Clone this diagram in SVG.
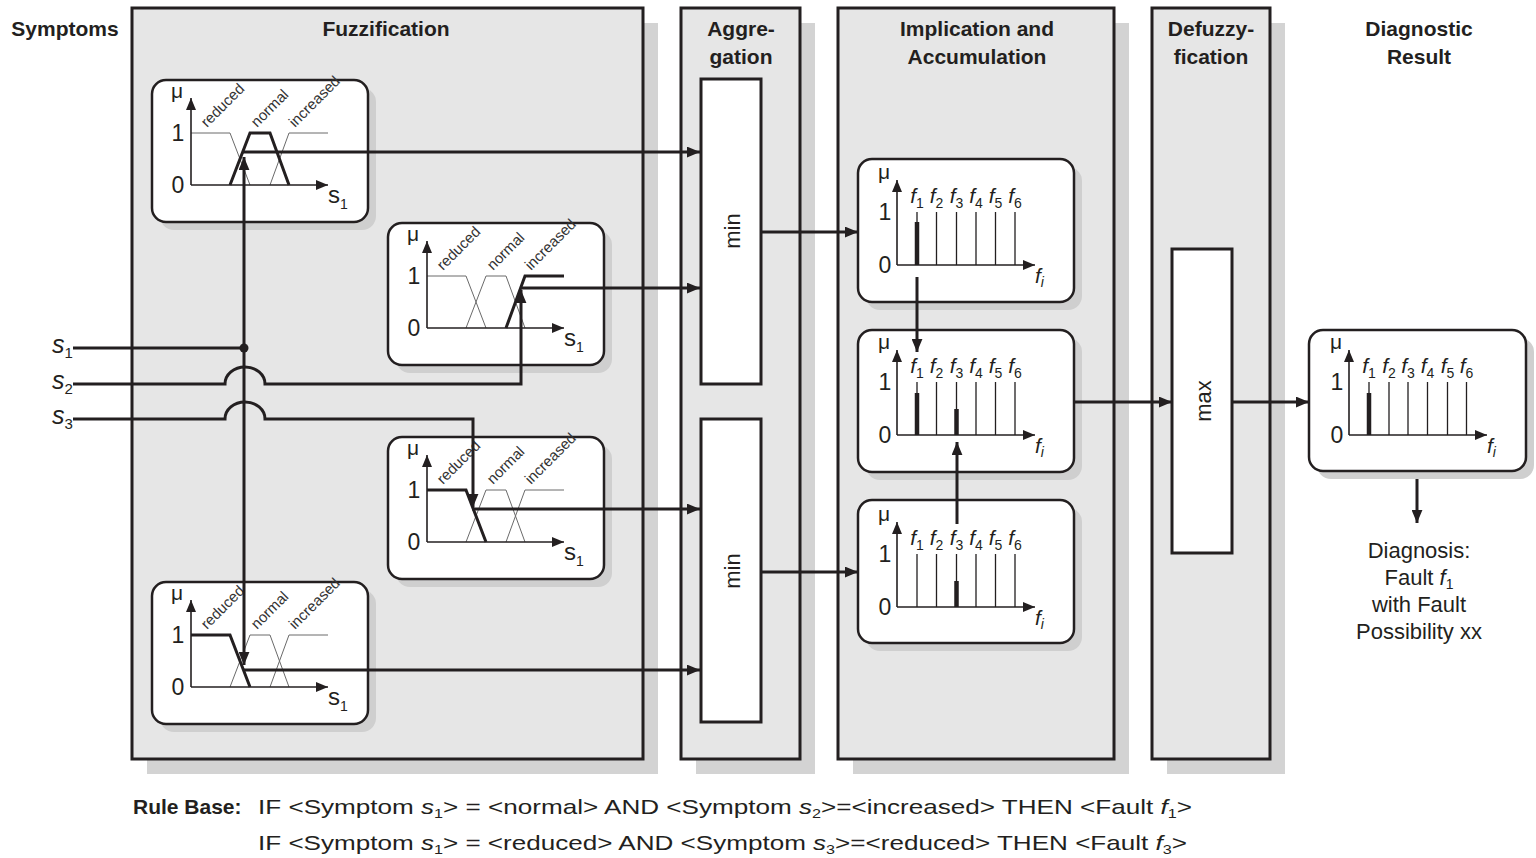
<svg xmlns="http://www.w3.org/2000/svg" width="1536" height="858" viewBox="0 0 1536 858">
<defs>
<style>
text{font-family:"Liberation Sans",Arial,sans-serif;fill:#231f20}
.h{font-size:21px;font-weight:bold;text-anchor:middle}
.panel{fill:#e6e6e6;stroke:#231f20;stroke-width:3}
.psh{fill:#d3d3d3}
.card{fill:#fff;stroke:#231f20;stroke-width:2.5}
.csh{fill:#cfcfcf}
.ax{stroke:#231f20;stroke-width:1.6;fill:none;marker-end:url(#axa)}
.mf{fill:none;stroke:#6a6a6a;stroke-width:1}
.mfb{fill:none;stroke:#231f20;stroke-width:3}
.bar{stroke:#231f20;stroke-width:1.3;fill:none}
.barb{stroke:#231f20;stroke-width:4.5}
.c{fill:none;stroke:#231f20;stroke-width:3;marker-end:url(#arr)}
.cn{fill:none;stroke:#231f20;stroke-width:3}
.num{font-size:23px;text-anchor:middle}
.mu{font-size:21px;text-anchor:middle}
.lab{font-size:15px;fill:#333}
.fl{font-size:21px;font-style:italic;text-anchor:middle}
.fs{font-size:14px;font-style:normal}
.box{fill:#fff;stroke:#231f20;stroke-width:3}
.op{font-size:22px;text-anchor:middle}
.rt{font-size:21px}
.dg{font-size:22px;text-anchor:middle}
</style>
<marker id="arr" viewBox="0 0 12 10" refX="12" refY="5" markerWidth="13" markerHeight="11" markerUnits="userSpaceOnUse" orient="auto"><path d="M0,0L12,5L0,10z" fill="#231f20"/></marker>
<marker id="axa" viewBox="0 0 12 10" refX="12" refY="5" markerWidth="12" markerHeight="10" markerUnits="userSpaceOnUse" orient="auto"><path d="M0,0L12,5L0,10z" fill="#231f20"/></marker>
</defs>
<rect width="1536" height="858" fill="#fff"/>

<g id="panels">
<rect class="psh" x="147" y="23" width="511" height="751"/>
<rect class="panel" x="132" y="8" width="511" height="751"/>
<rect class="psh" x="696" y="23" width="119" height="751"/>
<rect class="panel" x="681" y="8" width="119" height="751"/>
<rect class="psh" x="853" y="23" width="276" height="751"/>
<rect class="panel" x="838" y="8" width="276" height="751"/>
<rect class="psh" x="1167" y="23" width="118" height="751"/>
<rect class="panel" x="1152" y="8" width="118" height="751"/>
</g>

<g id="headers">
<text class="h" x="65" y="36">Symptoms</text>
<text class="h" x="386" y="36">Fuzzification</text>
<text class="h" x="741" y="36">Aggre-</text>
<text class="h" x="741" y="64">gation</text>
<text class="h" x="977" y="36">Implication and</text>
<text class="h" x="977" y="64">Accumulation</text>
<text class="h" x="1211" y="36">Defuzzy-</text>
<text class="h" x="1211" y="64">fication</text>
<text class="h" x="1419" y="36">Diagnostic</text>
<text class="h" x="1419" y="64">Result</text>
</g>

<g id="mf1" transform="translate(191,185)">
<rect class="csh" x="-31" y="-97" width="216" height="142" rx="14"/>
<rect class="card" x="-39" y="-105" width="216" height="142" rx="14"/>
<path class="mf" d="M0,-52H39L59,0M39,0L59,-52H79L98,0M79,0L98,-52H137"/>
<path class="mfb" d="M39,0L59,-52H79L98,0"/>
<line class="ax" x1="0" y1="0" x2="0" y2="-87"/>
<line class="ax" x1="0" y1="0" x2="137" y2="0"/>
<text class="mu" x="-14" y="-87">μ</text>
<text class="num" x="-13" y="-44">1</text>
<text class="num" x="-13" y="8">0</text>
<text x="137" y="18" font-size="24">s<tspan font-size="14" dy="6">1</tspan></text>
<text class="lab" transform="translate(16,-57) rotate(-45)">reduced</text>
<text class="lab" transform="translate(66,-57) rotate(-45)">normal</text>
<text class="lab" transform="translate(104,-57) rotate(-45)">increased</text>
</g>

<g id="mf2" transform="translate(427,328)">
<rect class="csh" x="-31" y="-97" width="216" height="142" rx="14"/>
<rect class="card" x="-39" y="-105" width="216" height="142" rx="14"/>
<path class="mf" d="M0,-52H39L59,0M39,0L59,-52H79L98,0M79,0L98,-52H137"/>
<path class="mfb" d="M79,0L98,-52H137"/>
<line class="ax" x1="0" y1="0" x2="0" y2="-87"/>
<line class="ax" x1="0" y1="0" x2="137" y2="0"/>
<text class="mu" x="-14" y="-87">μ</text>
<text class="num" x="-13" y="-44">1</text>
<text class="num" x="-13" y="8">0</text>
<text x="137" y="18" font-size="24">s<tspan font-size="14" dy="6">1</tspan></text>
<text class="lab" transform="translate(16,-57) rotate(-45)">reduced</text>
<text class="lab" transform="translate(66,-57) rotate(-45)">normal</text>
<text class="lab" transform="translate(104,-57) rotate(-45)">increased</text>
</g>

<g id="mf3" transform="translate(427,542)">
<rect class="csh" x="-31" y="-97" width="216" height="142" rx="14"/>
<rect class="card" x="-39" y="-105" width="216" height="142" rx="14"/>
<path class="mf" d="M0,-52H39L59,0M39,0L59,-52H79L98,0M79,0L98,-52H137"/>
<path class="mfb" d="M0,-52H39L59,0"/>
<line class="ax" x1="0" y1="0" x2="0" y2="-87"/>
<line class="ax" x1="0" y1="0" x2="137" y2="0"/>
<text class="mu" x="-14" y="-87">μ</text>
<text class="num" x="-13" y="-44">1</text>
<text class="num" x="-13" y="8">0</text>
<text x="137" y="18" font-size="24">s<tspan font-size="14" dy="6">1</tspan></text>
<text class="lab" transform="translate(16,-57) rotate(-45)">reduced</text>
<text class="lab" transform="translate(66,-57) rotate(-45)">normal</text>
<text class="lab" transform="translate(104,-57) rotate(-45)">increased</text>
</g>

<g id="mf4" transform="translate(191,687)">
<rect class="csh" x="-31" y="-97" width="216" height="142" rx="14"/>
<rect class="card" x="-39" y="-105" width="216" height="142" rx="14"/>
<path class="mf" d="M0,-52H39L59,0M39,0L59,-52H79L98,0M79,0L98,-52H137"/>
<path class="mfb" d="M0,-52H39L59,0"/>
<line class="ax" x1="0" y1="0" x2="0" y2="-87"/>
<line class="ax" x1="0" y1="0" x2="137" y2="0"/>
<text class="mu" x="-14" y="-87">μ</text>
<text class="num" x="-13" y="-44">1</text>
<text class="num" x="-13" y="8">0</text>
<text x="137" y="18" font-size="24">s<tspan font-size="14" dy="6">1</tspan></text>
<text class="lab" transform="translate(16,-57) rotate(-45)">reduced</text>
<text class="lab" transform="translate(66,-57) rotate(-45)">normal</text>
<text class="lab" transform="translate(104,-57) rotate(-45)">increased</text>
</g>

<g id="min1">
<rect class="box" x="701" y="79" width="60" height="305"/>
<text class="op" transform="translate(740,231) rotate(-90)">min</text>
</g>
<g id="min2">
<rect class="box" x="701" y="419" width="60" height="303"/>
<text class="op" transform="translate(740,571) rotate(-90)">min</text>
</g>

<g id="impA" transform="translate(897,265)">
<rect class="csh" x="-31" y="-98" width="216" height="143" rx="14"/>
<rect class="card" x="-39" y="-106" width="216" height="143" rx="14"/>
<path class="bar" d="M20,-53V0M39.5,-53V0M59.5,-53V0M79,-53V0M98.5,-53V0M118,-53V0"/>
<line class="barb" x1="20" y1="-43" x2="20" y2="0"/>
<line class="ax" x1="0" y1="0" x2="0" y2="-85"/>
<line class="ax" x1="0" y1="0" x2="138" y2="0"/>
<text class="mu" x="-13" y="-86">μ</text>
<text class="num" x="-12" y="-45">1</text>
<text class="num" x="-12" y="8">0</text>
<text class="fl" x="20" y="-62">f<tspan class="fs" dy="5">1</tspan></text>
<text class="fl" x="39.5" y="-62">f<tspan class="fs" dy="5">2</tspan></text>
<text class="fl" x="59.5" y="-62">f<tspan class="fs" dy="5">3</tspan></text>
<text class="fl" x="79" y="-62">f<tspan class="fs" dy="5">4</tspan></text>
<text class="fl" x="98.5" y="-62">f<tspan class="fs" dy="5">5</tspan></text>
<text class="fl" x="118" y="-62">f<tspan class="fs" dy="5">6</tspan></text>
<text x="138" y="18" font-size="21" font-style="italic">f<tspan font-size="14" dy="4">i</tspan></text>
</g>

<g id="impB" transform="translate(897,435)">
<rect class="csh" x="-31" y="-97" width="216" height="142" rx="14"/>
<rect class="card" x="-39" y="-105" width="216" height="142" rx="14"/>
<path class="bar" d="M20,-53V0M39.5,-53V0M59.5,-53V0M79,-53V0M98.5,-53V0M118,-53V0"/>
<line class="barb" x1="20" y1="-42" x2="20" y2="0"/>
<line class="barb" x1="59.5" y1="-26" x2="59.5" y2="0"/>
<line class="ax" x1="0" y1="0" x2="0" y2="-85"/>
<line class="ax" x1="0" y1="0" x2="138" y2="0"/>
<text class="mu" x="-13" y="-86">μ</text>
<text class="num" x="-12" y="-45">1</text>
<text class="num" x="-12" y="8">0</text>
<text class="fl" x="20" y="-62">f<tspan class="fs" dy="5">1</tspan></text>
<text class="fl" x="39.5" y="-62">f<tspan class="fs" dy="5">2</tspan></text>
<text class="fl" x="59.5" y="-62">f<tspan class="fs" dy="5">3</tspan></text>
<text class="fl" x="79" y="-62">f<tspan class="fs" dy="5">4</tspan></text>
<text class="fl" x="98.5" y="-62">f<tspan class="fs" dy="5">5</tspan></text>
<text class="fl" x="118" y="-62">f<tspan class="fs" dy="5">6</tspan></text>
<text x="138" y="18" font-size="21" font-style="italic">f<tspan font-size="14" dy="4">i</tspan></text>
</g>

<g id="impC" transform="translate(897,607)">
<rect class="csh" x="-31" y="-99" width="216" height="143" rx="14"/>
<rect class="card" x="-39" y="-107" width="216" height="143" rx="14"/>
<path class="bar" d="M20,-53V0M39.5,-53V0M59.5,-53V0M79,-53V0M98.5,-53V0M118,-53V0"/>
<line class="barb" x1="59.5" y1="-26" x2="59.5" y2="0"/>
<line class="ax" x1="0" y1="0" x2="0" y2="-85"/>
<line class="ax" x1="0" y1="0" x2="138" y2="0"/>
<text class="mu" x="-13" y="-86">μ</text>
<text class="num" x="-12" y="-45">1</text>
<text class="num" x="-12" y="8">0</text>
<text class="fl" x="20" y="-62">f<tspan class="fs" dy="5">1</tspan></text>
<text class="fl" x="39.5" y="-62">f<tspan class="fs" dy="5">2</tspan></text>
<text class="fl" x="59.5" y="-62">f<tspan class="fs" dy="5">3</tspan></text>
<text class="fl" x="79" y="-62">f<tspan class="fs" dy="5">4</tspan></text>
<text class="fl" x="98.5" y="-62">f<tspan class="fs" dy="5">5</tspan></text>
<text class="fl" x="118" y="-62">f<tspan class="fs" dy="5">6</tspan></text>
<text x="138" y="18" font-size="21" font-style="italic">f<tspan font-size="14" dy="4">i</tspan></text>
</g>

<g id="max">
<rect class="box" x="1172" y="249" width="60" height="304"/>
<text class="op" transform="translate(1211,401) rotate(-90)">max</text>
</g>

<g id="result" transform="translate(1349,435)">
<rect class="csh" x="-32" y="-97" width="217" height="141" rx="14"/>
<rect class="card" x="-40" y="-105" width="217" height="141" rx="14"/>
<path class="bar" d="M20,-53V0M40,-53V0M59,-53V0M78.5,-53V0M98.5,-53V0M117.5,-53V0"/>
<line class="barb" x1="20" y1="-42" x2="20" y2="0"/>
<line class="ax" x1="0" y1="0" x2="0" y2="-85"/>
<line class="ax" x1="0" y1="0" x2="138" y2="0"/>
<text class="mu" x="-13" y="-86">μ</text>
<text class="num" x="-12" y="-45">1</text>
<text class="num" x="-12" y="8">0</text>
<text class="fl" x="20" y="-62">f<tspan class="fs" dy="5">1</tspan></text>
<text class="fl" x="40" y="-62">f<tspan class="fs" dy="5">2</tspan></text>
<text class="fl" x="59" y="-62">f<tspan class="fs" dy="5">3</tspan></text>
<text class="fl" x="78.5" y="-62">f<tspan class="fs" dy="5">4</tspan></text>
<text class="fl" x="98.5" y="-62">f<tspan class="fs" dy="5">5</tspan></text>
<text class="fl" x="117.5" y="-62">f<tspan class="fs" dy="5">6</tspan></text>
<text x="138" y="18" font-size="21" font-style="italic">f<tspan font-size="14" dy="4">i</tspan></text>
</g>

<g id="inputs">
<text x="52" y="353" font-size="25" font-style="italic">s<tspan font-size="15" font-style="normal" dy="5">1</tspan></text>
<text x="52" y="389" font-size="25" font-style="italic">s<tspan font-size="15" font-style="normal" dy="5">2</tspan></text>
<text x="52" y="424" font-size="25" font-style="italic">s<tspan font-size="15" font-style="normal" dy="5">3</tspan></text>
</g>

<g id="connectors">
<path class="cn" d="M73,348H244"/>
<path class="c" d="M244,348V157"/>
<path class="c" d="M244,348V665"/>
<circle cx="244" cy="348" r="4.5" fill="#231f20"/>
<path class="c" d="M73,384H225A20,17 0 0 1 265,384H521V290"/>
<path class="c" d="M73,419H225A20,17 0 0 1 265,419H473V507"/>
<path class="c" d="M243,152H700"/>
<path class="c" d="M520,288H700"/>
<path class="c" d="M472,509H700"/>
<path class="c" d="M243,670H700"/>
<path class="c" d="M761,232H858"/>
<path class="c" d="M761,572H858"/>
<path class="c" d="M917,277V352"/>
<path class="c" d="M957,524V442"/>
<path class="c" d="M1074,402H1172"/>
<path class="c" d="M1232,402H1309"/>
<path class="c" d="M1417,479V523"/>
</g>

<g id="diagnosis">
<text class="dg" x="1419" y="558">Diagnosis:</text>
<text class="dg" x="1419" y="585">Fault <tspan font-style="italic">f</tspan><tspan font-size="14" dy="4">1</tspan></text>
<text class="dg" x="1419" y="612">with Fault</text>
<text class="dg" x="1419" y="639">Possibility xx</text>
</g>

<g id="rulebase">
<text x="133" y="814" font-size="21" font-weight="bold">Rule Base:</text>
<text class="rt" x="258" y="814" textLength="934" lengthAdjust="spacingAndGlyphs">IF &lt;Symptom <tspan font-style="italic">s</tspan><tspan font-size="13" dy="4">1</tspan><tspan dy="-4">&gt; = &lt;normal&gt; AND &lt;Symptom </tspan><tspan font-style="italic">s</tspan><tspan font-size="13" dy="4">2</tspan><tspan dy="-4">&gt;=&lt;increased&gt; THEN &lt;Fault </tspan><tspan font-style="italic">f</tspan><tspan font-size="13" dy="4">1</tspan><tspan dy="-4">&gt;</tspan></text>
<text class="rt" x="258" y="850" textLength="929" lengthAdjust="spacingAndGlyphs">IF &lt;Symptom <tspan font-style="italic">s</tspan><tspan font-size="13" dy="4">1</tspan><tspan dy="-4">&gt; = &lt;reduced&gt; AND &lt;Symptom </tspan><tspan font-style="italic">s</tspan><tspan font-size="13" dy="4">3</tspan><tspan dy="-4">&gt;=&lt;reduced&gt; THEN &lt;Fault </tspan><tspan font-style="italic">f</tspan><tspan font-size="13" dy="4">3</tspan><tspan dy="-4">&gt;</tspan></text>
</g>
</svg>
